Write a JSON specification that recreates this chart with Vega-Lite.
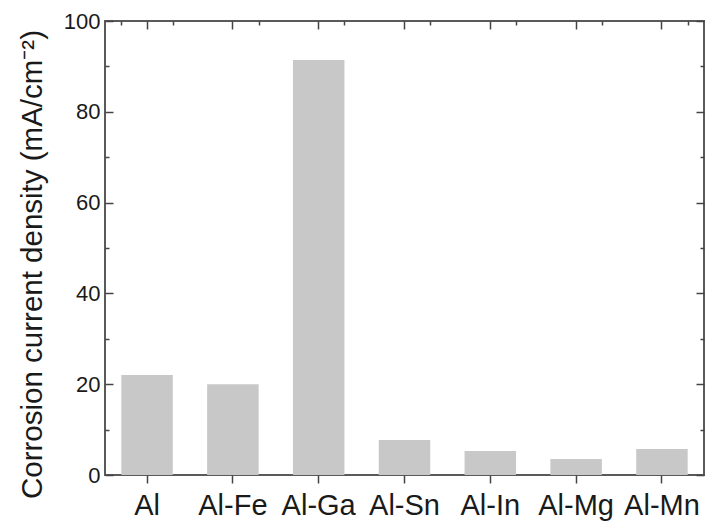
{
  "$schema": "https://vega.github.io/schema/vega-lite/v6.json",
  "width": 599,
  "height": 454,
  "autosize": {"type": "none"},
  "padding": {"left": 105, "top": 21, "right": 3, "bottom": 54},
  "background": "white",
  "config": {
    "font": "Liberation Sans",
    "view": {"stroke": "#5a5a5a", "strokeWidth": 2},
    "axis": {
      "domain": false,
      "grid": false,
      "tickColor": "#444444",
      "tickWidth": 1.5,
      "labelColor": "#1a1a1a",
      "labelFont": "Liberation Sans",
      "titleFont": "Liberation Sans",
      "titleColor": "#1a1a1a",
      "titleFontWeight": "normal"
    }
  },
  "data": {
    "values": [
      {"alloy": "Al", "density": 22.0},
      {"alloy": "Al-Fe", "density": 20.0},
      {"alloy": "Al-Ga", "density": 91.4},
      {"alloy": "Al-Sn", "density": 7.7},
      {"alloy": "Al-In", "density": 5.3},
      {"alloy": "Al-Mg", "density": 3.5},
      {"alloy": "Al-Mn", "density": 5.7}
    ]
  },
  "encoding": {
    "x": {
      "field": "alloy",
      "type": "nominal",
      "sort": null,
      "scale": {"paddingInner": 0.4, "paddingOuter": 0.19}
    },
    "y": {
      "field": "density",
      "type": "quantitative",
      "scale": {"domain": [0, 100], "nice": false, "zero": true}
    }
  },
  "layer": [
    {
      "mark": {"type": "bar", "color": "#c8c8c8"},
      "encoding": {
        "x": {
          "field": "alloy", "type": "nominal", "sort": null,
          "axis": {
            "orient": "bottom", "title": null, "labelAngle": 0,
            "labelFontSize": 29, "labelPadding": 8, "tickSize": 8
          }
        },
        "y": {
          "field": "density", "type": "quantitative",
          "axis": {
            "orient": "left",
            "title": "Corrosion current density (mA/cm⁻²)",
            "titleFontSize": 29.5,
            "titlePadding": 16,
            "titleY": 243,
            "values": [0, 10, 20, 30, 40, 50, 60, 70, 80, 90, 100],
            "labelExpr": "datum.value % 20 === 0 ? datum.label : ''",
            "labelFontSize": 22,
            "labelPadding": 13,
            "tickSize": {"condition": {"test": "datum.value % 20 !== 0", "value": -4}, "value": -8}
          }
        }
      }
    },
    {
      "mark": {"type": "bar", "opacity": 0},
      "encoding": {
        "x": {
          "field": "alloy", "type": "nominal", "sort": null,
          "axis": {"orient": "top", "title": null, "labels": false, "tickSize": -8}
        },
        "y": {
          "field": "density", "type": "quantitative",
          "axis": {
            "orient": "right", "title": null, "labels": false,
            "values": [0, 10, 20, 30, 40, 50, 60, 70, 80, 90, 100],
            "tickSize": {"condition": {"test": "datum.value % 20 !== 0", "value": -4}, "value": -8}
          }
        }
      }
    },
    {
      "mark": {"type": "bar", "opacity": 0},
      "encoding": {
        "x": {
          "field": "alloy", "type": "nominal", "sort": null,
          "axis": {"orient": "top", "title": null, "labels": false, "tickBand": "extent", "tickSize": -4}
        },
        "y": {"field": "density", "type": "quantitative", "axis": null}
      }
    }
  ],
  "resolve": {"axis": {"x": "independent", "y": "independent"}}
}
